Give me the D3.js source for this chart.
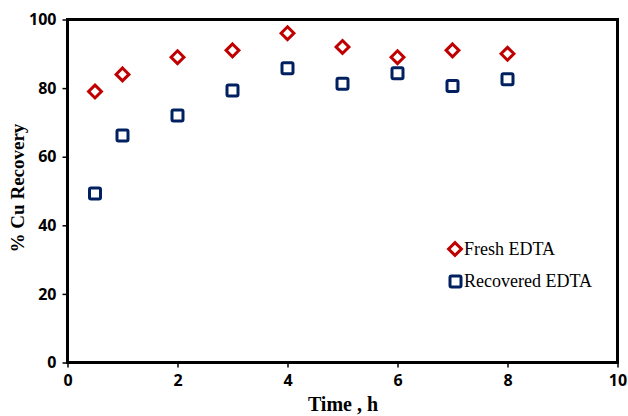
<!DOCTYPE html>
<html>
<head>
<meta charset="utf-8">
<script src="https://cdn.jsdelivr.net/npm/d3@7"></script>
<style>
  body { margin: 0; background: #fff; }
  .tick text { font-family: "Open Sans", sans-serif; font-weight: bold; font-size: 16px; fill: #000; }
</style>
</head>
<body>
<div id="chart"></div>
<script>
const times = [0.5, 1, 2, 3, 4, 5, 6, 7, 8];
const fresh = [79, 84, 89, 91, 96, 92, 89, 91, 90];
const recovered = [49.3, 66.2, 72, 79.3, 85.8, 81.3, 84.3, 80.6, 82.6];
const xTicks = [0, 2, 4, 6, 8, 10];
const yTicks = [0, 20, 40, 60, 80, 100];
const seriesNames = ["Fresh EDTA", "Recovered EDTA"];

const width = 628, height = 416;
const margin = {top: 19.5, right: 10.5, bottom: 53.5, left: 67.5};

const svg = d3.select("#chart")
    .append("svg")
    .attr("width", width)
    .attr("height", height);

const x = d3.scaleLinear().domain([0, 10]).range([margin.left, width - margin.right]);
const y = d3.scaleLinear().domain([0, 100]).range([height - margin.bottom, margin.top]);

// frame
svg.append("rect")
    .attr("x", x(0))
    .attr("y", y(100))
    .attr("width", x(10) - x(0))
    .attr("height", y(0) - y(100))
    .attr("fill", "none")
    .attr("stroke", "black")
    .attr("stroke-width", 3);

const xAxis = svg.append("g")
    .attr("transform", `translate(0,${y(0)})`)
    .call(d3.axisBottom(x).tickValues(xTicks).tickSize(5).tickPadding(7));
xAxis.select(".domain").remove();
xAxis.selectAll(".tick line").attr("stroke-width", 1.5);

const yAxis = svg.append("g")
    .attr("transform", `translate(${x(0)},0)`)
    .call(d3.axisLeft(y).tickValues(yTicks).tickSize(5).tickPadding(6));
yAxis.select(".domain").remove();
yAxis.selectAll(".tick line").attr("stroke-width", 1.5);

// axis titles
svg.append("text")
    .attr("x", 343)
    .attr("y", 411)
    .attr("text-anchor", "middle")
    .style("font-family", "'Liberation Serif', serif")
    .style("font-weight", "bold")
    .style("font-size", "20px")
    .text("Time , h");

svg.append("text")
    .attr("transform", "translate(24,188) rotate(-90)")
    .attr("text-anchor", "middle")
    .style("font-family", "'Liberation Serif', serif")
    .style("font-weight", "bold")
    .style("font-size", "19px")
    .text("% Cu Recovery");

const diamond = d3.symbol().type(d3.symbolDiamond2).size(105);

svg.selectAll(".fresh")
    .data(times.map((t, i) => [t, fresh[i]]))
    .enter().append("path")
    .attr("class", "fresh")
    .attr("d", diamond)
    .attr("transform", d => `translate(${x(d[0])},${y(d[1])})`)
    .attr("fill", "white")
    .attr("stroke", "#C00000")
    .attr("stroke-width", 3);

svg.selectAll(".rec")
    .data(times.map((t, i) => [t, recovered[i]]))
    .enter().append("rect")
    .attr("class", "rec")
    .attr("x", d => x(d[0]) - 5.5)
    .attr("y", d => y(d[1]) - 5.5)
    .attr("width", 11)
    .attr("height", 11)
    .attr("rx", 1.5)
    .attr("fill", "white")
    .attr("stroke", "#002060")
    .attr("stroke-width", 3);

// legend
const legend = svg.append("g").attr("transform", "translate(455,249)");
legend.append("path")
    .attr("d", diamond)
    .attr("fill", "white")
    .attr("stroke", "#C00000")
    .attr("stroke-width", 3);
legend.append("rect")
    .attr("x", -5).attr("y", 27).attr("width", 11).attr("height", 11).attr("rx", 1.5)
    .attr("fill", "white")
    .attr("stroke", "#002060")
    .attr("stroke-width", 3);
legend.selectAll("text")
    .data(seriesNames)
    .enter().append("text")
    .attr("x", 9)
    .attr("y", (d, i) => 6 + i * 32)
    .style("font-family", "'Liberation Serif', serif")
    .style("font-size", "18px")
    .text(d => d);
</script>
</body>
</html>
